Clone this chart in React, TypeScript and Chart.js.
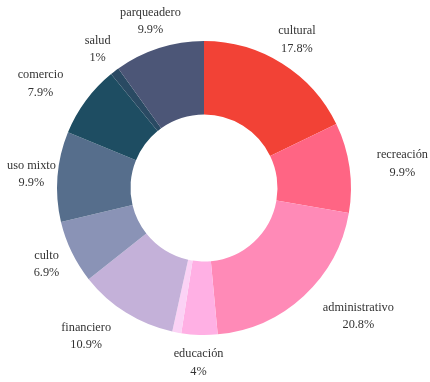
import React, { useEffect, useRef } from "react";
import { Chart, registerables } from "chart.js";

Chart.register(...registerables);

const categories = [
  "cultural",
  "recreación",
  "administrativo",
  "educación",
  "",
  "financiero",
  "culto",
  "uso mixto",
  "comercio",
  "salud",
  "parqueadero",
];

const counts = [18, 10, 21, 4, 1, 11, 7, 10, 8, 1, 10];

const sliceColors = [
  "#f24236",
  "#ff6584",
  "#ff8ab7",
  "#ffb0e4",
  "#fbd2f5",
  "#c4b1d9",
  "#8a93b6",
  "#566e8c",
  "#1e4d62",
  "#2a4a63",
  "#4c5677",
];

const labelAlign = [
  "center",
  "left",
  "left",
  "center",
  "none",
  "right",
  "center",
  "center",
  "right",
  "center",
  "center",
];

const outsideLabels = {
  id: "outsideLabels",
  afterDatasetsDraw(chart: any) {
    const ctx = chart.ctx;
    const meta = chart.getDatasetMeta(0);
    const data = chart.data.datasets[0].data as number[];
    const total = data.reduce((a, b) => a + b, 0);
    ctx.save();
    ctx.font = "12.3px 'Liberation Serif', 'Times New Roman', serif";
    ctx.fillStyle = "#333333";
    ctx.textBaseline = "middle";
    ctx.textAlign = "center";
    meta.data.forEach((arc: any, i: number) => {
      const name = chart.data.labels[i] as string;
      const align = labelAlign[i];
      if (!name || align === "none") return;
      const p = arc.getProps(["x", "y", "startAngle", "endAngle", "outerRadius"], true);
      const mid = (p.startAngle + p.endAngle) / 2;
      const r = p.outerRadius + 28;
      const ax = p.x + Math.cos(mid) * r;
      const ay = p.y + Math.sin(mid) * r;
      const pct = Math.round((data[i] / total) * 1000) / 10;
      const lines = [name, `${pct}%`];
      const maxW = Math.max(...lines.map((s) => ctx.measureText(s).width));
      let cx = ax;
      if (align === "left") cx = ax + maxW / 2;
      if (align === "right") cx = ax - maxW / 2;
      cx = Math.max(7 + maxW / 2, Math.min(chart.width - 2 - maxW / 2, cx));
      lines.forEach((t, k) => {
        ctx.fillText(t, cx, ay + (k === 0 ? -8.7 : 8.7));
      });
    });
    ctx.restore();
  },
};

export default function App() {
  const ref = useRef<HTMLCanvasElement>(null);
  useEffect(() => {
    if (!ref.current) return;
    const chart = new Chart(ref.current, {
      type: "doughnut",
      data: {
        labels: categories,
        datasets: [
          {
            data: counts,
            backgroundColor: sliceColors,
            borderWidth: 0,
          },
        ],
      },
      options: {
        responsive: false,
        animation: false,
        cutout: "50%",
        layout: { padding: { left: 57, right: 79, top: 41, bottom: 47 } },
        plugins: {
          legend: { display: false },
          tooltip: { enabled: false },
        },
      },
      plugins: [outsideLabels],
    });
    return () => chart.destroy();
  }, []);
  return (
    <div style={{ position: "absolute", left: 0, top: 0, width: 430, height: 382, background: "#fff" }}>
      <canvas ref={ref} width={430} height={382} style={{ display: "block" }} />
    </div>
  );
}
